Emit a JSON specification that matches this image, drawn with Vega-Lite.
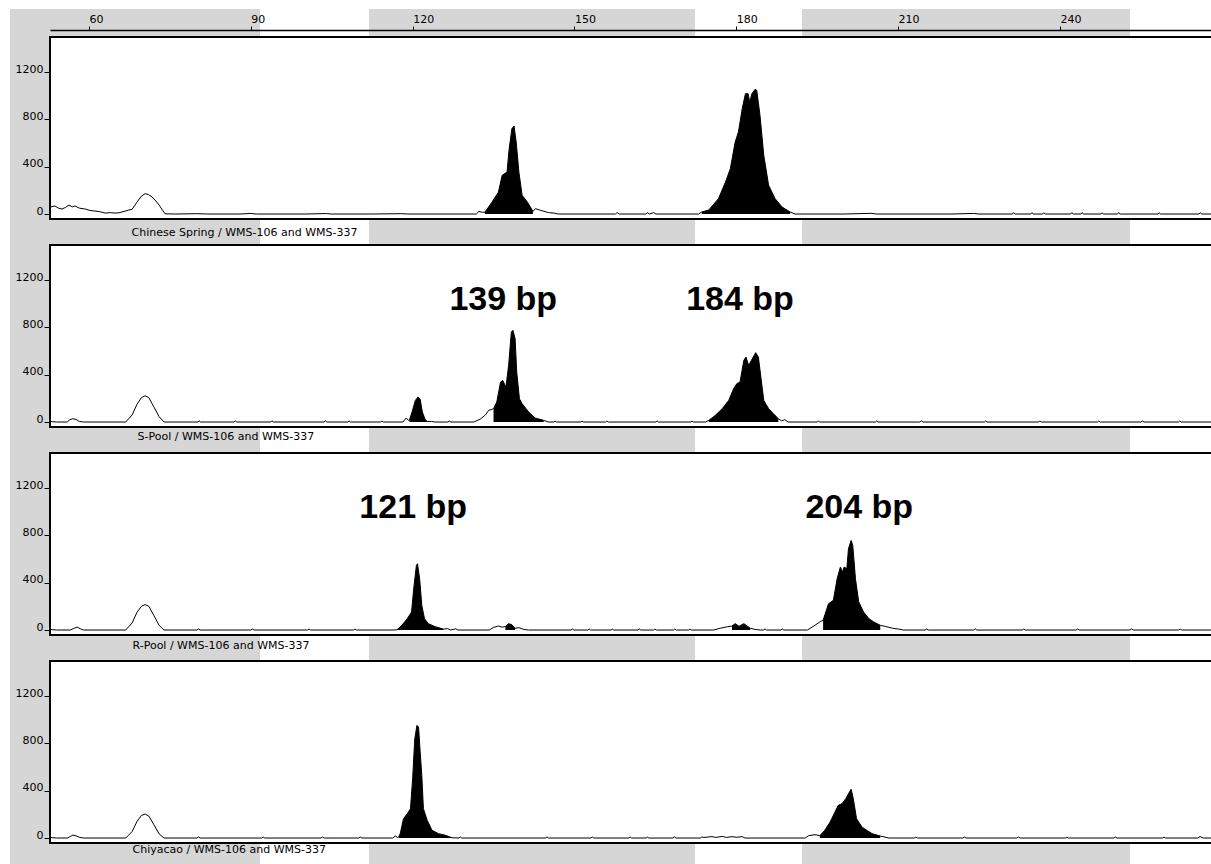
{
  "$schema": "https://vega.github.io/schema/vega-lite/v6.json",
  "background": "white",
  "padding": {"left": 8, "top": 7, "right": 0, "bottom": 0},
  "autosize": {"type": "pad"},
  "bounds": "flush",
  "spacing": 26,
  "resolve": {"scale": {"x": "independent", "y": "independent"}},
  "config": {
    "view": {"fill": "white", "stroke": "black", "strokeWidth": 2},
    "axis": {"zindex": 2, "grid": false, "labelFont": "DejaVu Sans", "labelFontSize": 11, "labelColor": "black", "tickColor": "black", "domainColor": "black", "titleFont": "DejaVu Sans", "titleFontSize": 11, "titleFontWeight": "normal", "titleColor": "black", "labelFlush": false}
  },
  "datasets": {
    "bands": [{"x1": 45.35, "x2": 91.70}, {"x1": 111.91, "x2": 172.35}, {"x1": 192.18, "x2": 252.99}],
    "notes": [
      {"p": "S-Pool", "label": "139 bp", "x": 136.8, "y": 1031},
      {"p": "S-Pool", "label": "184 bp", "x": 180.7, "y": 1031},
      {"p": "R-Pool", "label": "121 bp", "x": 120.1, "y": 1031},
      {"p": "R-Pool", "label": "204 bp", "x": 202.8, "y": 1031}
    ],
    "cs": [
      {"x":52.8,"y":59},{"x":53.7,"y":68},{"x":54.3,"y":50},{"x":55.0,"y":42},{"x":55.6,"y":55},{"x":56.3,"y":76},{"x":56.9,"y":60},{"x":57.4,"y":68},{"x":58.2,"y":50},{"x":59.3,"y":42},{"x":60.2,"y":30},{"x":61.1,"y":25},{"x":62.0,"y":20},{"x":63.0,"y":8},{"x":64.0,"y":12},{"x":64.8,"y":8},{"x":65.5,"y":10},{"x":66.1,"y":17},{"x":67.4,"y":34},{"x":68.0,"y":40},{"x":68.9,"y":101},{"x":69.7,"y":150},{"x":70.4,"y":172},{"x":71.0,"y":165},{"x":71.7,"y":144},{"x":72.4,"y":110},{"x":73.0,"y":76},{"x":73.6,"y":35},{"x":74.1,"y":2},{"x":76,"y":0},{"x":80,"y":3},{"x":82,"y":0},{"x":88,"y":0},{"x":90,"y":5},{"x":91,"y":0},{"x":100,"y":0},{"x":104,"y":4},{"x":105,"y":0},{"x":112,"y":0},{"x":118,"y":3},{"x":119,"y":0},{"x":131.8,"y":0},{"x":132.3,"y":22},{"x":132.9,"y":15},
      {"x":133.4,"y":15,"s":"a"},{"x":134.7,"y":100,"s":"a"},{"x":135.9,"y":185,"s":"a"},{"x":136.6,"y":327,"s":"a"},{"x":137.5,"y":355,"s":"a"},{"x":137.9,"y":552,"s":"a"},{"x":138.4,"y":721,"s":"a"},{"x":138.8,"y":744,"s":"a"},{"x":139.2,"y":608,"s":"a"},{"x":139.7,"y":355,"s":"a"},{"x":140.3,"y":158,"s":"a"},{"x":141.3,"y":100,"s":"a"},{"x":142.3,"y":23,"s":"a"},
      {"x":142.8,"y":45},{"x":143.8,"y":30},{"x":145.2,"y":12},{"x":146.2,"y":8},{"x":147,"y":0},{"x":157.6,"y":0},{"x":157.9,"y":12},{"x":158.3,"y":0},{"x":163.3,"y":0},{"x":163.5,"y":12},{"x":163.9,"y":0},{"x":164.7,"y":12},{"x":165.1,"y":0},{"x":173,"y":0},
      {"x":173.6,"y":17,"s":"b"},{"x":174.9,"y":34,"s":"b"},{"x":176.7,"y":130,"s":"b"},{"x":178.0,"y":270,"s":"b"},{"x":178.9,"y":383,"s":"b"},{"x":179.8,"y":608,"s":"b"},{"x":180.4,"y":693,"s":"b"},{"x":181.1,"y":890,"s":"b"},{"x":181.7,"y":1017,"s":"b"},{"x":182.2,"y":1017,"s":"b"},{"x":182.5,"y":946,"s":"b"},{"x":182.9,"y":1017,"s":"b"},{"x":183.5,"y":1054,"s":"b"},{"x":183.8,"y":1045,"s":"b"},{"x":184.4,"y":834,"s":"b"},{"x":185.1,"y":496,"s":"b"},{"x":186.0,"y":243,"s":"b"},{"x":187.2,"y":130,"s":"b"},{"x":188.5,"y":59,"s":"b"},{"x":190.0,"y":17,"s":"b"},
      {"x":190.9,"y":0},{"x":200,"y":0},{"x":205,"y":6},{"x":206,"y":0},{"x":220,"y":0},{"x":224,"y":5},{"x":225,"y":0},{"x":231.2,"y":0},{"x":231.4,"y":12},{"x":231.7,"y":0},{"x":234.6,"y":0},{"x":234.8,"y":12},{"x":235.1,"y":0},{"x":236.8,"y":0},{"x":237.0,"y":10},{"x":237.3,"y":0},{"x":242.0,"y":0},{"x":242.2,"y":12},{"x":242.5,"y":0},{"x":243.9,"y":0},{"x":244.1,"y":12},{"x":244.4,"y":0},{"x":247.6,"y":0},{"x":247.8,"y":10},{"x":248.1,"y":0},{"x":250.7,"y":0},{"x":250.9,"y":12},{"x":251.2,"y":0},{"x":258.2,"y":0},{"x":258.4,"y":10},{"x":258.7,"y":0},{"x":265.8,"y":0},{"x":266.0,"y":12},{"x":266.3,"y":0},{"x":268.2,"y":0}
    ],
    "sp": [
      {"x":52.8,"y":5},{"x":54,"y":0},{"x":56.0,"y":0},{"x":56.4,"y":20},{"x":57.0,"y":28},{"x":57.6,"y":22},{"x":58.2,"y":5},{"x":59,"y":0},{"x":66.8,"y":0},{"x":68.0,"y":60},{"x":68.9,"y":150},{"x":69.7,"y":205},{"x":70.4,"y":222},{"x":71.1,"y":205},{"x":72.0,"y":130},{"x":73.0,"y":45},{"x":73.9,"y":0},{"x":80.2,"y":0},{"x":80.4,"y":10},{"x":80.7,"y":0},{"x":86.9,"y":0},{"x":87.1,"y":10},{"x":87.4,"y":0},{"x":93.7,"y":0},{"x":93.9,"y":10},{"x":94.2,"y":0},{"x":103.6,"y":0},{"x":103.8,"y":12},{"x":104.1,"y":0},{"x":108.0,"y":0},{"x":108.2,"y":10},{"x":108.5,"y":0},{"x":114,"y":0},{"x":114.3,"y":8},{"x":114.6,"y":0},{"x":118.2,"y":0},{"x":118.8,"y":34},{"x":119.2,"y":15},
      {"x":119.4,"y":15,"s":"c"},{"x":119.9,"y":85,"s":"c"},{"x":120.5,"y":183,"s":"c"},{"x":121.0,"y":211,"s":"c"},{"x":121.4,"y":192,"s":"c"},{"x":121.8,"y":85,"s":"c"},{"x":122.3,"y":23,"s":"c"},{"x":122.7,"y":5,"s":"c"},
      {"x":123.5,"y":5},{"x":124.2,"y":0},{"x":126.5,"y":0},{"x":126.8,"y":8},{"x":127.1,"y":0},{"x":131.3,"y":0},{"x":132.5,"y":23},{"x":133.5,"y":60},{"x":134.1,"y":99},{"x":134.7,"y":107},
      {"x":135.0,"y":113,"s":"d"},{"x":135.6,"y":169,"s":"d"},{"x":136.3,"y":338,"s":"d"},{"x":136.7,"y":352,"s":"d"},{"x":137.3,"y":296,"s":"d"},{"x":137.8,"y":479,"s":"d"},{"x":138.3,"y":760,"s":"d"},{"x":138.6,"y":775,"s":"d"},{"x":139.0,"y":704,"s":"d"},{"x":139.3,"y":423,"s":"d"},{"x":139.8,"y":197,"s":"d"},{"x":140.3,"y":155,"s":"d"},{"x":141.5,"y":85,"s":"d"},{"x":142.7,"y":34,"s":"d"},{"x":144.3,"y":14,"s":"d"},
      {"x":145.2,"y":0},{"x":146.2,"y":0},{"x":146.4,"y":8},{"x":146.7,"y":0},{"x":151.2,"y":0},{"x":151.4,"y":8},{"x":151.7,"y":0},{"x":155.8,"y":0},{"x":156.0,"y":8},{"x":156.3,"y":0},{"x":165.1,"y":0},{"x":165.3,"y":10},{"x":165.6,"y":0},{"x":171.6,"y":0},{"x":171.8,"y":8},{"x":172.1,"y":0},{"x":174.3,"y":0},
      {"x":174.9,"y":14,"s":"e"},{"x":176.1,"y":56,"s":"e"},{"x":177.4,"y":113,"s":"e"},{"x":178.6,"y":183,"s":"e"},{"x":179.5,"y":281,"s":"e"},{"x":180.1,"y":324,"s":"e"},{"x":180.7,"y":338,"s":"e"},{"x":181.4,"y":521,"s":"e"},{"x":181.8,"y":549,"s":"e"},{"x":182.3,"y":479,"s":"e"},{"x":182.8,"y":521,"s":"e"},{"x":183.6,"y":586,"s":"e"},{"x":184.1,"y":549,"s":"e"},{"x":184.6,"y":366,"s":"e"},{"x":185.1,"y":183,"s":"e"},{"x":186.0,"y":113,"s":"e"},{"x":186.9,"y":70,"s":"e"},{"x":187.8,"y":28,"s":"e"},
      {"x":188.4,"y":10},{"x":189.0,"y":20},{"x":189.6,"y":0},{"x":195,"y":0},{"x":195.2,"y":8},{"x":195.5,"y":0},{"x":205.8,"y":0},{"x":206,"y":8},{"x":206.3,"y":0},{"x":214,"y":0},{"x":214.3,"y":10},{"x":214.6,"y":0},{"x":226,"y":0},{"x":226.2,"y":8},{"x":226.5,"y":0},{"x":236,"y":0},{"x":236.3,"y":8},{"x":236.6,"y":0},{"x":247,"y":0},{"x":247.2,"y":8},{"x":247.5,"y":0},{"x":255,"y":0},{"x":255.3,"y":8},{"x":255.6,"y":0},{"x":262,"y":0},{"x":262.2,"y":8},{"x":262.5,"y":0},{"x":268.2,"y":0}
    ],
    "rp": [
      {"x":52.8,"y":5},{"x":54,"y":0},{"x":56.5,"y":0},{"x":57.1,"y":12},{"x":57.8,"y":25},{"x":58.4,"y":10},{"x":59,"y":0},{"x":66.8,"y":0},{"x":68.0,"y":60},{"x":68.9,"y":150},{"x":69.7,"y":200},{"x":70.4,"y":215},{"x":71.1,"y":200},{"x":72.0,"y":125},{"x":73.0,"y":40},{"x":73.9,"y":0},{"x":80,"y":0},{"x":80.3,"y":8},{"x":80.6,"y":0},{"x":90,"y":0},{"x":90.3,"y":8},{"x":90.6,"y":0},{"x":100.5,"y":0},{"x":100.8,"y":8},{"x":101.1,"y":0},{"x":109,"y":0},{"x":109.3,"y":8},{"x":109.6,"y":0},{"x":116.5,"y":0},
      {"x":117.1,"y":2,"s":"f"},{"x":118.0,"y":40,"s":"f"},{"x":119.0,"y":96,"s":"f"},{"x":119.8,"y":152,"s":"f"},{"x":120.2,"y":349,"s":"f"},{"x":120.7,"y":546,"s":"f"},{"x":120.9,"y":560,"s":"f"},{"x":121.3,"y":433,"s":"f"},{"x":121.7,"y":209,"s":"f"},{"x":122.2,"y":96,"s":"f"},{"x":122.9,"y":54,"s":"f"},{"x":124.2,"y":28,"s":"f"},{"x":125.7,"y":8,"s":"f"},
      {"x":126.5,"y":12},{"x":127.0,"y":0},{"x":128.0,"y":10},{"x":128.4,"y":0},{"x":134.2,"y":0},{"x":135.0,"y":22},{"x":135.9,"y":34},{"x":136.6,"y":24},
      {"x":137.2,"y":30,"s":"g"},{"x":137.8,"y":54,"s":"g"},{"x":138.4,"y":45,"s":"g"},{"x":139.0,"y":15,"s":"g"},
      {"x":139.7,"y":20},{"x":140.6,"y":5},{"x":141.5,"y":0},{"x":149.4,"y":0},{"x":149.6,"y":10},{"x":149.9,"y":0},{"x":152.5,"y":0},{"x":152.7,"y":10},{"x":153.0,"y":0},{"x":156.8,"y":0},{"x":157.0,"y":8},{"x":157.3,"y":0},{"x":161.8,"y":0},{"x":162.0,"y":10},{"x":162.3,"y":0},{"x":164.7,"y":0},{"x":164.9,"y":8},{"x":165.2,"y":0},{"x":168.4,"y":0},{"x":168.6,"y":8},{"x":168.9,"y":0},{"x":171.2,"y":0},{"x":171.4,"y":8},{"x":171.7,"y":0},{"x":175.8,"y":0},{"x":177.0,"y":15},{"x":178.4,"y":28},
      {"x":179.2,"y":34,"s":"h"},{"x":179.8,"y":54,"s":"h"},{"x":180.5,"y":32,"s":"h"},{"x":181.4,"y":54,"s":"h"},{"x":182.6,"y":15,"s":"h"},
      {"x":183.5,"y":5},{"x":184.5,"y":0},{"x":185.1,"y":0},{"x":185.3,"y":10},{"x":185.6,"y":0},{"x":188.3,"y":0},{"x":188.5,"y":10},{"x":188.8,"y":0},{"x":193.2,"y":0},{"x":194.6,"y":40},{"x":195.6,"y":72},
      {"x":196.1,"y":82,"s":"i"},{"x":197.1,"y":222,"s":"i"},{"x":198.0,"y":251,"s":"i"},{"x":198.7,"y":433,"s":"i"},{"x":199.3,"y":532,"s":"i"},{"x":199.7,"y":490,"s":"i"},{"x":200.0,"y":532,"s":"i"},{"x":200.5,"y":518,"s":"i"},{"x":200.8,"y":687,"s":"i"},{"x":201.3,"y":757,"s":"i"},{"x":201.6,"y":715,"s":"i"},{"x":202.1,"y":433,"s":"i"},{"x":202.7,"y":239,"s":"i"},{"x":203.6,"y":152,"s":"i"},{"x":204.6,"y":96,"s":"i"},{"x":205.5,"y":68,"s":"i"},{"x":206.7,"y":40,"s":"i"},
      {"x":207.6,"y":31},{"x":209.0,"y":15},{"x":210.1,"y":8},{"x":211.0,"y":0},{"x":215,"y":0},{"x":215.3,"y":8},{"x":215.6,"y":0},{"x":224,"y":0},{"x":224.3,"y":10},{"x":224.6,"y":0},{"x":233,"y":0},{"x":233.3,"y":8},{"x":233.6,"y":0},{"x":243,"y":0},{"x":243.3,"y":8},{"x":243.6,"y":0},{"x":253,"y":0},{"x":253.3,"y":10},{"x":253.6,"y":0},{"x":262,"y":0},{"x":262.3,"y":8},{"x":262.6,"y":0},{"x":268.2,"y":0}
    ],
    "ch": [
      {"x":52.8,"y":5},{"x":54,"y":0},{"x":56.0,"y":0},{"x":56.5,"y":12},{"x":57.0,"y":25},{"x":57.6,"y":18},{"x":58.3,"y":5},{"x":59,"y":0},{"x":66.8,"y":0},{"x":68.0,"y":55},{"x":68.9,"y":140},{"x":69.7,"y":190},{"x":70.4,"y":203},{"x":71.1,"y":185},{"x":72.0,"y":115},{"x":73.0,"y":35},{"x":73.9,"y":0},{"x":80,"y":0},{"x":80.3,"y":8},{"x":80.6,"y":0},{"x":92,"y":0},{"x":92.3,"y":8},{"x":92.6,"y":0},{"x":103,"y":0},{"x":103.3,"y":8},{"x":103.6,"y":0},{"x":110,"y":0},{"x":110.3,"y":8},{"x":110.6,"y":0},{"x":116.3,"y":0},{"x":116.8,"y":17},{"x":117.2,"y":5},
      {"x":117.4,"y":8,"s":"j"},{"x":117.7,"y":37,"s":"j"},{"x":118.3,"y":163,"s":"j"},{"x":119.0,"y":205,"s":"j"},{"x":119.6,"y":248,"s":"j"},{"x":120.0,"y":501,"s":"j"},{"x":120.4,"y":839,"s":"j"},{"x":120.8,"y":952,"s":"j"},{"x":121.1,"y":938,"s":"j"},{"x":121.4,"y":727,"s":"j"},{"x":121.7,"y":530,"s":"j"},{"x":122.0,"y":248,"s":"j"},{"x":122.7,"y":150,"s":"j"},{"x":123.6,"y":65,"s":"j"},{"x":124.8,"y":37,"s":"j"},{"x":126.1,"y":23,"s":"j"},{"x":127.3,"y":2,"s":"j"},
      {"x":128.6,"y":0},{"x":128.8,"y":10},{"x":129.1,"y":0},{"x":144.7,"y":0},{"x":144.9,"y":10},{"x":145.2,"y":0},{"x":153.1,"y":0},{"x":153.3,"y":10},{"x":153.6,"y":0},{"x":160.1,"y":0},{"x":160.3,"y":10},{"x":160.6,"y":0},{"x":163.3,"y":0},{"x":163.5,"y":8},{"x":163.8,"y":0},{"x":168.3,"y":0},{"x":168.5,"y":12},{"x":168.8,"y":0},{"x":173.4,"y":0},{"x":173.6,"y":10},{"x":174.0,"y":5},{"x":175.5,"y":12},{"x":176.2,"y":5},{"x":177.4,"y":14},{"x":178.2,"y":5},{"x":179.2,"y":12},{"x":180.0,"y":6},{"x":181.1,"y":12},{"x":181.6,"y":0},{"x":192.8,"y":0},{"x":193.4,"y":20},{"x":194.6,"y":28},
      {"x":195.5,"y":20,"s":"k"},{"x":196.4,"y":65,"s":"k"},{"x":197.4,"y":135,"s":"k"},{"x":198.3,"y":220,"s":"k"},{"x":198.9,"y":276,"s":"k"},{"x":199.6,"y":290,"s":"k"},{"x":200.3,"y":332,"s":"k"},{"x":200.8,"y":375,"s":"k"},{"x":201.3,"y":412,"s":"k"},{"x":201.7,"y":332,"s":"k"},{"x":202.3,"y":163,"s":"k"},{"x":203.3,"y":93,"s":"k"},{"x":204.2,"y":65,"s":"k"},{"x":205.2,"y":37,"s":"k"},{"x":206.7,"y":17,"s":"k"},
      {"x":208.3,"y":0},{"x":213,"y":0},{"x":213.3,"y":8},{"x":213.6,"y":0},{"x":222,"y":0},{"x":222.3,"y":8},{"x":222.6,"y":0},{"x":232,"y":0},{"x":232.3,"y":8},{"x":232.6,"y":0},{"x":241,"y":0},{"x":241.3,"y":8},{"x":241.6,"y":0},{"x":250,"y":0},{"x":250.3,"y":8},{"x":250.6,"y":0},{"x":259,"y":0},{"x":259.3,"y":8},{"x":259.6,"y":0},{"x":265.5,"y":0},{"x":266,"y":12},{"x":266.6,"y":0},{"x":268.2,"y":0}
    ]
  },
  "vconcat": [
    {
      "width": 1162, "height": 182,
      "resolve": {"axis": {"x": "independent", "y": "independent"}},
      "layer": [
        {"data": {"name": "cs"}, "mark": {"type": "line", "color": "black", "strokeWidth": 1},
         "encoding": {"x": {"field": "x", "type": "quantitative", "scale": {"domain": [52.77, 268.2], "nice": false, "zero": false}, "axis": {"zindex": 2, "orient": "bottom", "labels": false, "ticks": false, "domain": false, "title": "Chinese Spring / WMS-106 and WMS-337", "titleX": 81, "titleY": 13.5, "titleAlign": "left", "titleAnchor": "start", "titleBaseline": "middle", "titlePadding": 0}},
                      "y": {"field": "y", "type": "quantitative", "scale": {"domain": [-42, 1496], "nice": false, "zero": false}, "axis": {"zindex": 2, "orient": "left", "values": [0, 400, 800, 1200], "format": "d", "tickSize": 6, "labelPadding": 1, "domain": false, "title": null, "labelBaseline": "alphabetic"}}}},
        {"data": {"name": "cs"}, "transform": [{"filter": "isValid(datum.s)"}], "mark": {"type": "area", "color": "black"},
         "encoding": {"x": {"field": "x", "type": "quantitative", "axis": {"zindex": 2, "orient": "top", "values": [60, 90, 120, 150, 180, 210, 240], "offset": 7, "tickSize": 4, "labelPadding": 4, "labelAlign": "left", "labelBaseline": "alphabetic", "title": null, "domainWidth": 1.5}},
                      "y": {"field": "y", "type": "quantitative", "axis": null}, "y2": {"datum": 0}, "detail": {"field": "s"}}},
        {"data": {"name": "bands"}, "mark": {"type": "rect", "color": "#d6d6d6"},
         "encoding": {"x": {"field": "x1", "type": "quantitative", "axis": null}, "x2": {"field": "x2"},
                      "y": {"datum": -50.5, "type": "quantitative", "axis": null}, "y2": {"datum": -262}}},
        {"data": {"name": "bands"}, "mark": {"type": "rect", "color": "#d6d6d6"},
         "encoding": {"x": {"field": "x1", "type": "quantitative", "axis": null}, "x2": {"field": "x2"},
                      "y": {"datum": 1504.5, "type": "quantitative", "axis": null}, "y2": {"datum": 1733}}},
        {"data": {"values": [{}]}, "mark": {"type": "rect", "color": "#d6d6d6"},
         "encoding": {"x": {"datum": 45.35, "type": "quantitative", "axis": null}, "x2": {"datum": 52.58},
                      "y": {"datum": -262, "type": "quantitative", "axis": null}, "y2": {"datum": 1733}}}
      ]
    },
    {
      "width": 1162, "height": 182,
      "resolve": {"axis": {"x": "independent", "y": "independent"}},
      "layer": [
        {"data": {"name": "sp"}, "mark": {"type": "line", "color": "black", "strokeWidth": 1},
         "encoding": {"x": {"field": "x", "type": "quantitative", "scale": {"domain": [52.77, 268.2], "nice": false, "zero": false}, "axis": {"zindex": 2, "orient": "bottom", "labels": false, "ticks": false, "domain": false, "title": "S-Pool / WMS-106 and WMS-337", "titleX": 87, "titleY": 9.5, "titleAlign": "left", "titleAnchor": "start", "titleBaseline": "middle", "titlePadding": 0}},
                      "y": {"field": "y", "type": "quantitative", "scale": {"domain": [-42, 1496], "nice": false, "zero": false}, "axis": {"zindex": 2, "orient": "left", "values": [0, 400, 800, 1200], "format": "d", "tickSize": 6, "labelPadding": 1, "domain": false, "title": null, "labelBaseline": "alphabetic"}}}},
        {"data": {"name": "sp"}, "transform": [{"filter": "isValid(datum.s)"}], "mark": {"type": "area", "color": "black"},
         "encoding": {"x": {"field": "x", "type": "quantitative", "axis": null},
                      "y": {"field": "y", "type": "quantitative", "axis": null}, "y2": {"datum": 0}, "detail": {"field": "s"}}},
        {"data": {"name": "bands"}, "mark": {"type": "rect", "color": "#d6d6d6"},
         "encoding": {"x": {"field": "x1", "type": "quantitative", "axis": null}, "x2": {"field": "x2"},
                      "y": {"datum": -50.5, "type": "quantitative", "axis": null}, "y2": {"datum": -262}}},
        {"data": {"values": [{}]}, "mark": {"type": "rect", "color": "#d6d6d6"},
         "encoding": {"x": {"datum": 45.35, "type": "quantitative", "axis": null}, "x2": {"datum": 52.58},
                      "y": {"datum": -262, "type": "quantitative", "axis": null}, "y2": {"datum": 1496}}},
        {"data": {"name": "notes"}, "transform": [{"filter": "datum.p == 'S-Pool'"}], "mark": {"type": "text", "font": "Liberation Sans", "fontWeight": "bold", "fontSize": 34, "align": "center", "baseline": "middle", "color": "black"},
         "encoding": {"x": {"field": "x", "type": "quantitative", "axis": null}, "y": {"field": "y", "type": "quantitative", "axis": null}, "text": {"field": "label"}}}
      ]
    },
    {
      "width": 1162, "height": 182,
      "resolve": {"axis": {"x": "independent", "y": "independent"}},
      "layer": [
        {"data": {"name": "rp"}, "mark": {"type": "line", "color": "black", "strokeWidth": 1},
         "encoding": {"x": {"field": "x", "type": "quantitative", "scale": {"domain": [52.77, 268.2], "nice": false, "zero": false}, "axis": {"zindex": 2, "orient": "bottom", "labels": false, "ticks": false, "domain": false, "title": "R-Pool / WMS-106 and WMS-337", "titleX": 82, "titleY": 10, "titleAlign": "left", "titleAnchor": "start", "titleBaseline": "middle", "titlePadding": 0}},
                      "y": {"field": "y", "type": "quantitative", "scale": {"domain": [-42, 1496], "nice": false, "zero": false}, "axis": {"zindex": 2, "orient": "left", "values": [0, 400, 800, 1200], "format": "d", "tickSize": 6, "labelPadding": 1, "domain": false, "title": null, "labelBaseline": "alphabetic"}}}},
        {"data": {"name": "rp"}, "transform": [{"filter": "isValid(datum.s)"}], "mark": {"type": "area", "color": "black"},
         "encoding": {"x": {"field": "x", "type": "quantitative", "axis": null},
                      "y": {"field": "y", "type": "quantitative", "axis": null}, "y2": {"datum": 0}, "detail": {"field": "s"}}},
        {"data": {"name": "bands"}, "mark": {"type": "rect", "color": "#d6d6d6"},
         "encoding": {"x": {"field": "x1", "type": "quantitative", "axis": null}, "x2": {"field": "x2"},
                      "y": {"datum": -50.5, "type": "quantitative", "axis": null}, "y2": {"datum": -262}}},
        {"data": {"values": [{}]}, "mark": {"type": "rect", "color": "#d6d6d6"},
         "encoding": {"x": {"datum": 45.35, "type": "quantitative", "axis": null}, "x2": {"datum": 52.58},
                      "y": {"datum": -262, "type": "quantitative", "axis": null}, "y2": {"datum": 1496}}},
        {"data": {"name": "notes"}, "transform": [{"filter": "datum.p == 'R-Pool'"}], "mark": {"type": "text", "font": "Liberation Sans", "fontWeight": "bold", "fontSize": 34, "align": "center", "baseline": "middle", "color": "black"},
         "encoding": {"x": {"field": "x", "type": "quantitative", "axis": null}, "y": {"field": "y", "type": "quantitative", "axis": null}, "text": {"field": "label"}}}
      ]
    },
    {
      "width": 1162, "height": 182,
      "resolve": {"axis": {"x": "independent", "y": "independent"}},
      "layer": [
        {"data": {"name": "ch"}, "mark": {"type": "line", "color": "black", "strokeWidth": 1},
         "encoding": {"x": {"field": "x", "type": "quantitative", "scale": {"domain": [52.77, 268.2], "nice": false, "zero": false}, "axis": {"zindex": 2, "orient": "bottom", "labels": false, "ticks": false, "domain": false, "title": "Chiyacao / WMS-106 and WMS-337", "titleX": 82, "titleY": 6.5, "titleAlign": "left", "titleAnchor": "start", "titleBaseline": "middle", "titlePadding": 0}},
                      "y": {"field": "y", "type": "quantitative", "scale": {"domain": [-42, 1496], "nice": false, "zero": false}, "axis": {"zindex": 2, "orient": "left", "values": [0, 400, 800, 1200], "format": "d", "tickSize": 6, "labelPadding": 1, "domain": false, "title": null, "labelBaseline": "alphabetic"}}}},
        {"data": {"name": "ch"}, "transform": [{"filter": "isValid(datum.s)"}], "mark": {"type": "area", "color": "black"},
         "encoding": {"x": {"field": "x", "type": "quantitative", "axis": null},
                      "y": {"field": "y", "type": "quantitative", "axis": null}, "y2": {"datum": 0}, "detail": {"field": "s"}}},
        {"data": {"name": "bands"}, "mark": {"type": "rect", "color": "#d6d6d6"},
         "encoding": {"x": {"field": "x1", "type": "quantitative", "axis": null}, "x2": {"field": "x2"},
                      "y": {"datum": -50.5, "type": "quantitative", "axis": null}, "y2": {"datum": -236}}},
        {"data": {"values": [{}]}, "mark": {"type": "rect", "color": "#d6d6d6"},
         "encoding": {"x": {"datum": 45.35, "type": "quantitative", "axis": null}, "x2": {"datum": 52.58},
                      "y": {"datum": -236, "type": "quantitative", "axis": null}, "y2": {"datum": 1496}}}
      ]
    }
  ]
}
